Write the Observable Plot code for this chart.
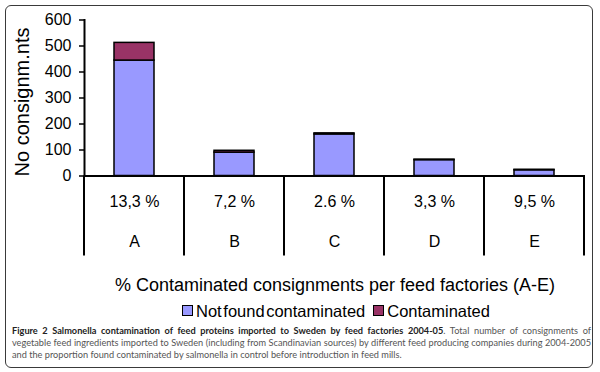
<!DOCTYPE html>
<html>
<head>
<meta charset="utf-8">
<script src="https://cdn.jsdelivr.net/npm/d3@7"></script>
<script src="https://cdn.jsdelivr.net/npm/@observablehq/plot@0.6"></script>
<style>
  html, body { margin: 0; padding: 0; background: #fff; }
  #wrap { position: relative; width: 600px; height: 372px; overflow: hidden; font-family: "Liberation Sans", Arial, sans-serif; }
  #frame { position: absolute; left: 5px; top: 5px; width: 586px; height: 361px; border: 1.5px solid #3a3a3a; border-radius: 6px; box-sizing: content-box; }
  #chart { position: absolute; left: 0; top: 0; }
  #legend { position: absolute; left: 0; width: 600px; top: 303px; line-height: 16px; text-align: center; font-size: 16.5px; color: #000; padding-left: 72px; box-sizing: border-box; white-space: nowrap; }
  #legend span.sw { display: inline-block; width: 9px; height: 9px; border: 1.5px solid #000; margin-right: 3px; vertical-align: 1px; }
  #legend span.item { margin: 0 4px; }
  #legend span.item:first-child { word-spacing: -3px; }
  #caption { position: absolute; left: 12px; width: 579px; top: 325px; font-family: Lato, "Noto Sans", sans-serif; font-size: 9.2px; line-height: 12.2px; color: #555; }
  #caption div { white-space: nowrap; }
  #caption div.j { text-align: justify; text-align-last: justify; white-space: normal; }
  #caption b { color: #222; }
</style>
</head>
<body>
<div id="wrap">
  <div id="frame"></div>
  <div id="chart"></div>
  <div id="legend"></div>
  <div id="caption">
    <div class="j"><b>Figure 2 Salmonella contamination of feed proteins imported to Sweden by feed factories 2004-05</b>. Total number of consignments of</div>
    <div class="j">vegetable feed ingredients imported to Sweden (including from Scandinavian sources) by different feed producing companies during 2004-2005</div>
    <div>and the proportion found contaminated by salmonella in control before introduction in feed mills.</div>
  </div>
</div>
<script>
const factories = ["A", "B", "C", "D", "E"];
const notFound = [444, 90, 160, 61, 22];
const contaminated = [68, 7, 4, 2, 2];
const percentLabels = ["13,3 %", "7,2 %", "2.6 %", "3,3 %", "9,5 %"];
const seriesNames = ["Not found contaminated", "Contaminated"];
const seriesColors = ["#9999ff", "#993366"];
const yTicks = [0, 100, 200, 300, 400, 500, 600];
const yLabel = "No consignm.nts";
const xTitle = "% Contaminated consignments per feed factories (A-E)";

const rows = [];
factories.forEach((f, i) => {
  rows.push({factory: f, series: seriesNames[0], value: notFound[i]});
  rows.push({factory: f, series: seriesNames[1], value: contaminated[i]});
});
const table = factories.map((f, i) => ({factory: f, pct: percentLabels[i]}));

const dividers = (index, scales, values, dims) => {
  const g = d3.create("svg:g");
  const step = scales.x.step ? scales.x.step() : (dims.width - dims.marginLeft - dims.marginRight) / factories.length;
  const bw = scales.x.bandwidth ? scales.x.bandwidth() : 0;
  const y0 = dims.height - dims.marginBottom;
  const xs = factories.map(f => scales.x(f) + bw / 2 - step / 2);
  xs.push(scales.x(factories[factories.length - 1]) + bw / 2 + step / 2);
  xs.forEach(x => {
    g.append("line").attr("x1", x).attr("x2", x).attr("y1", y0).attr("y2", y0 + 80)
      .attr("stroke", "#000").attr("stroke-width", 2);
  });
  return g.node();
};

const chart = Plot.plot({
  width: 600,
  height: 300,
  marginLeft: 84,
  marginRight: 15,
  marginTop: 19.5,
  marginBottom: 124.5,
  style: {fontFamily: "Liberation Sans, Arial, sans-serif", background: "transparent"},
  x: {domain: factories, paddingInner: 0.6, paddingOuter: 0.3, axis: null},
  y: {domain: [0, 600], axis: null},
  color: {domain: seriesNames, range: seriesColors},
  marks: [
    Plot.barY(rows, Plot.stackY({x: "factory", y: "value", fill: "series", order: seriesNames, stroke: "#000", strokeWidth: 1.5})),
    Plot.axisY({ticks: yTicks, tickSize: 5, tickPadding: 8, fontSize: 16, label: null, strokeWidth: 1.5, color: "#000"}),
    Plot.frame({anchor: "left", stroke: "#000", strokeWidth: 2}),
    Plot.ruleY([0], {stroke: "#000", strokeWidth: 2}),
    dividers,
    Plot.text(table, {x: "factory", frameAnchor: "bottom", text: "pct", dy: 31, fontSize: 16, fill: "#000"}),
    Plot.text(table, {x: "factory", frameAnchor: "bottom", text: "factory", dy: 71, fontSize: 16, fill: "#000"}),
    Plot.text([xTitle], {frameAnchor: "bottom", text: d => d, dy: 115, fontSize: 18, fill: "#000"}),
    Plot.text([yLabel], {frameAnchor: "left", textAnchor: "middle", text: d => d, rotate: -90, dx: -62, dy: 4, fontSize: 20, fill: "#000"})
  ]
});
document.getElementById("chart").appendChild(chart);

const legend = document.getElementById("legend");
seriesNames.forEach((name, i) => {
  const item = document.createElement("span");
  item.className = "item";
  const sw = document.createElement("span");
  sw.className = "sw";
  sw.style.background = seriesColors[i];
  item.appendChild(sw);
  item.appendChild(document.createTextNode(name));
  legend.appendChild(item);
});
</script>
</body>
</html>
